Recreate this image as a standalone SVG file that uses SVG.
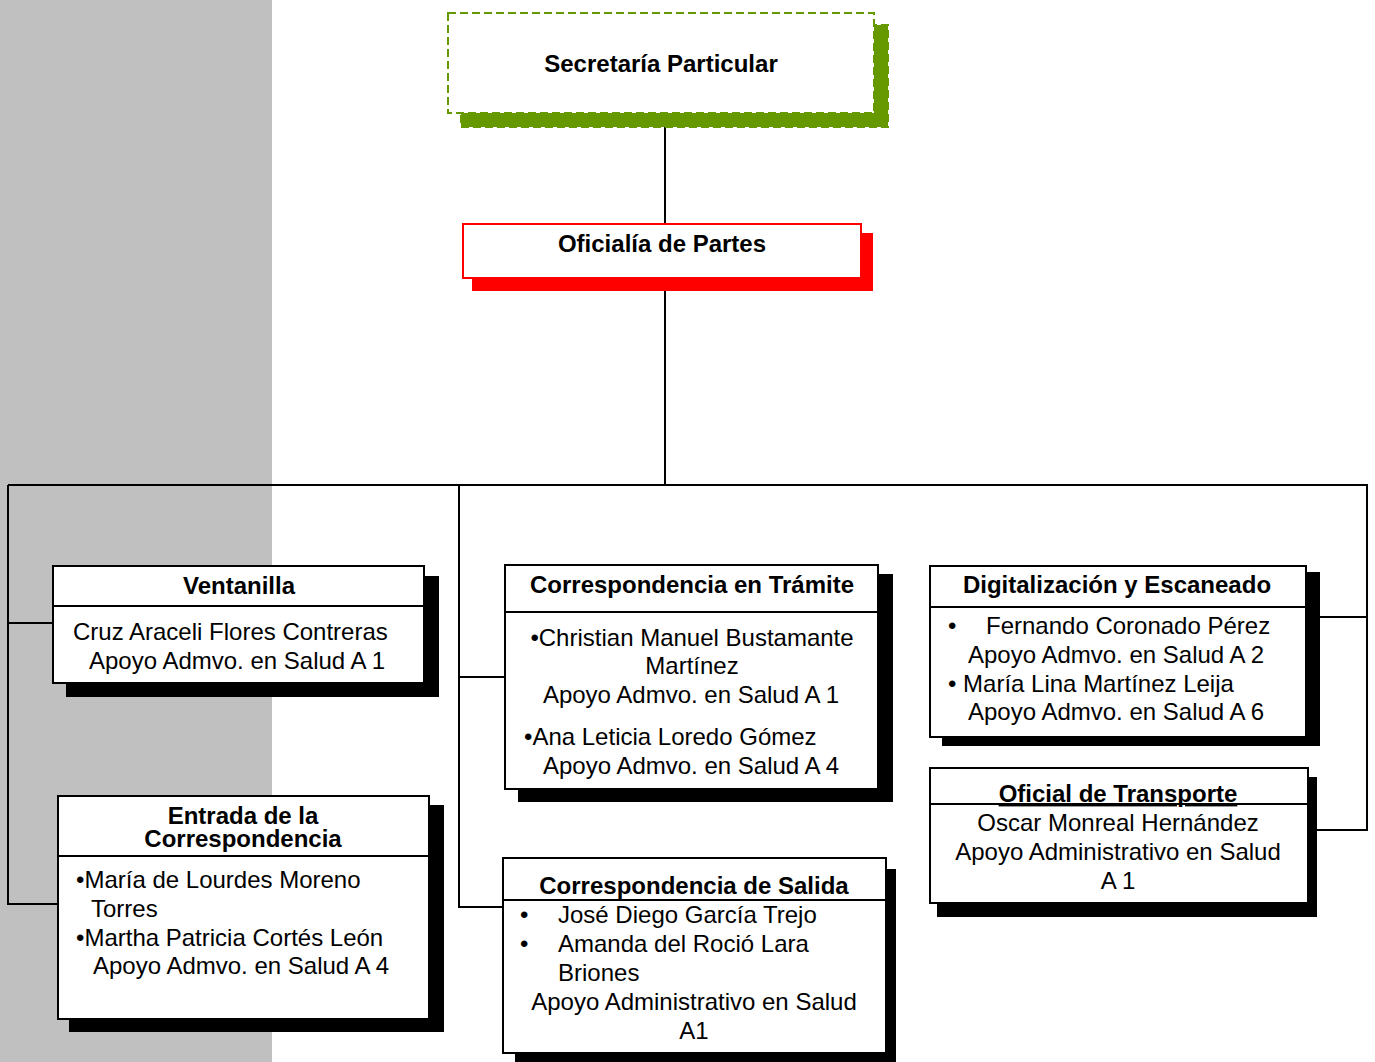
<svg xmlns="http://www.w3.org/2000/svg" width="1375" height="1062" viewBox="0 0 1375 1062">
<style>
.t{font-family:"Liberation Sans",Arial,sans-serif;font-size:24px;fill:#000}
.b{font-weight:bold}
.m{text-anchor:middle}
.box{fill:#fff;stroke:#000;stroke-width:2}
.sh{fill:#000}
.ln{stroke:#000;stroke-width:2;fill:none}
</style>
<rect x="0" y="0" width="1375" height="1062" fill="#fff"/>
<rect x="0" y="0" width="272" height="1062" fill="#c0c0c0"/>

<g id="connectors" class="ln">
<line x1="665" y1="127" x2="665" y2="224"/>
<line x1="665" y1="291" x2="665" y2="485"/>
<line x1="8" y1="485" x2="1368" y2="485"/>
<polyline points="8,485 8,904 58,904"/>
<line x1="8" y1="623" x2="53" y2="623"/>
<polyline points="459,485 459,907 503,907"/>
<line x1="459" y1="677" x2="505" y2="677"/>
<polyline points="1367,485 1367,830 1317,830"/>
<line x1="1319" y1="617" x2="1367" y2="617"/>
</g>

<g id="secretaria">
<rect x="461" y="25" width="427" height="102" fill="#669900" stroke="#669900" stroke-width="2" stroke-dasharray="8,4"/>
<rect x="448" y="13" width="426" height="100" fill="#fff" stroke="#669900" stroke-width="2" stroke-dasharray="8,4"/>
<text class="t b m" x="661" y="72">Secretaría Particular</text>
</g>

<g id="oficialia">
<rect x="472" y="233" width="401" height="58" fill="#ff0000"/>
<rect x="463" y="224" width="398" height="54" fill="#fff" stroke="#ff0000" stroke-width="2"/>
<text class="t b m" x="662" y="252">Oficialía de Partes</text>
</g>

<g id="ventanilla">
<rect class="sh" x="66" y="576" width="373" height="121"/>
<rect class="box" x="53" y="566" width="371" height="117"/>
<line class="ln" x1="53" y1="606" x2="424" y2="606"/>
<text class="t b m" x="239" y="594">Ventanilla</text>
<text class="t" x="73" y="640">Cruz Araceli Flores Contreras</text>
<text class="t" x="89" y="669">Apoyo Admvo. en Salud A 1</text>
</g>

<g id="entrada">
<rect class="sh" x="69" y="805" width="375" height="227"/>
<rect class="box" x="58" y="796" width="371" height="223"/>
<line class="ln" x1="58" y1="856" x2="429" y2="856"/>
<text class="t b m" x="243" y="824">Entrada de la</text>
<text class="t b m" x="243" y="847">Correspondencia</text>
<text class="t" x="76" y="888">•María de Lourdes Moreno</text>
<text class="t" x="91" y="917">Torres</text>
<text class="t" x="76" y="946">•Martha Patricia Cortés León</text>
<text class="t" x="93" y="974">Apoyo Admvo. en Salud A 4</text>
</g>

<g id="tramite">
<rect class="sh" x="518" y="574" width="375" height="228"/>
<rect class="box" x="505" y="565" width="373" height="224"/>
<line class="ln" x1="505" y1="612" x2="878" y2="612"/>
<text class="t b m" x="692" y="593">Correspondencia en Trámite</text>
<text class="t m" x="692" y="646">•Christian Manuel Bustamante</text>
<text class="t m" x="692" y="674">Martínez</text>
<text class="t m" x="691" y="703">Apoyo Admvo. en Salud A 1</text>
<text class="t" x="524" y="745">•Ana Leticia Loredo Gómez</text>
<text class="t" x="543" y="774">Apoyo Admvo. en Salud A 4</text>
</g>

<g id="salida">
<rect class="sh" x="515" y="869" width="381" height="193"/>
<rect class="box" x="503" y="858" width="383" height="195"/>
<line class="ln" x1="503" y1="900" x2="886" y2="900"/>
<text class="t b m" x="694" y="894">Correspondencia de Salida</text>
<text class="t" x="520" y="923">•</text>
<text class="t" x="558" y="923">José Diego García Trejo</text>
<text class="t" x="520" y="952">•</text>
<text class="t" x="558" y="952">Amanda del Roció Lara</text>
<text class="t" x="558" y="981">Briones</text>
<text class="t m" x="694" y="1010">Apoyo Administrativo en Salud</text>
<text class="t m" x="694" y="1039">A1</text>
</g>

<g id="digitalizacion">
<rect class="sh" x="942" y="572" width="378" height="174"/>
<rect class="box" x="930" y="566" width="376" height="171"/>
<line class="ln" x1="930" y1="607" x2="1306" y2="607"/>
<text class="t b m" x="1117" y="593">Digitalización y Escaneado</text>
<text class="t" x="948" y="634">•</text>
<text class="t" x="986" y="634">Fernando Coronado Pérez</text>
<text class="t" x="968" y="663">Apoyo Admvo. en Salud A 2</text>
<text class="t" x="948" y="692">• María Lina Martínez Leija</text>
<text class="t" x="968" y="720">Apoyo Admvo. en Salud A 6</text>
</g>

<g id="transporte">
<rect class="sh" x="937" y="777" width="380" height="140"/>
<rect class="box" x="930" y="768" width="378" height="135"/>
<line class="ln" x1="930" y1="804" x2="1308" y2="804"/>
<text class="t b m" x="1118" y="802" text-decoration="underline">Oficial de Transporte</text>
<text class="t m" x="1118" y="831">Oscar Monreal Hernández</text>
<text class="t m" x="1118" y="860">Apoyo Administrativo en Salud</text>
<text class="t m" x="1118" y="889">A 1</text>
</g>
</svg>
